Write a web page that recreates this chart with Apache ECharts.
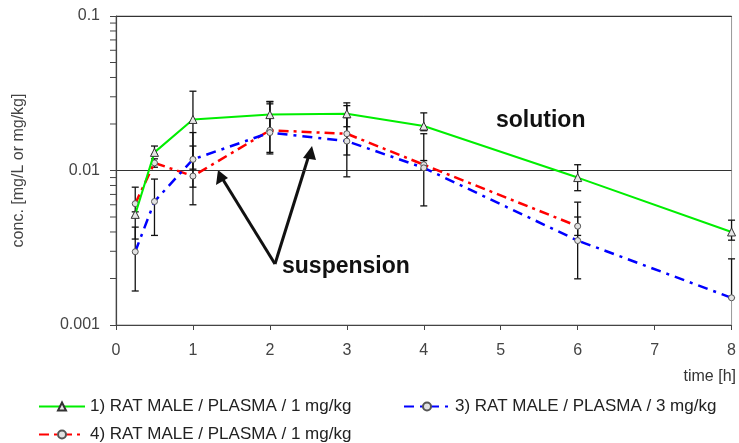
<!DOCTYPE html>
<html>
<head>
<meta charset="utf-8">
<script src="https://cdn.jsdelivr.net/npm/echarts@6/dist/echarts.min.js"></script>
<style>
  html, body { margin: 0; padding: 0; background: #fff; }
  #chart { width: 739px; height: 443px; }
</style>
</head>
<body>
<div id="chart"></div>
<script>
// Sampling times [h]
const timesSolution = [0.25, 0.5, 1, 2, 3, 4, 6, 8];
const times3mg = [0.25, 0.5, 1, 2, 3, 4, 6, 8];
const times4 = [0.25, 0.5, 1, 2, 3, 4, 6];

// 1) RAT MALE / PLASMA / 1 mg/kg (solution): mean and error range
const conc1 = [0.0052, 0.0131, 0.0214, 0.0230, 0.0233, 0.0194, 0.0090, 0.0040];
const conc1Low = [0.0050, 0.0127, 0.0102, 0.0180, 0.0192, 0.0181, 0.0074, 0.00354];
const conc1High = [0.0054, 0.0144, 0.0326, 0.0278, 0.0274, 0.0236, 0.0109, 0.00477];

// 3) RAT MALE / PLASMA / 3 mg/kg (suspension)
const conc3 = [0.00298, 0.0063, 0.0118, 0.0176, 0.0155, 0.0104, 0.00352, 0.0015];
const conc3Low = [0.00166, 0.0038, 0.0060, 0.0128, 0.0091, 0.0059, 0.00199, 0.0015];
const conc3High = [0.0043, 0.0088, 0.0176, 0.0270, 0.0220, 0.0173, 0.00624, 0.00268];

// 4) RAT MALE / PLASMA / 1 mg/kg (suspension)
const conc4 = [0.0061, 0.0112, 0.0092, 0.0182, 0.0173, 0.0109, 0.00436];
const conc4Low = [0.0036, 0.0105, 0.0078, 0.0131, 0.0126, 0.0102, 0.0038];
const conc4High = [0.0078, 0.0119, 0.0144, 0.0280, 0.0263, 0.0116, 0.0050];

// Axis ticks
const xTicks = [0, 1, 2, 3, 4, 5, 6, 7, 8];
const yMajor = [0.001, 0.01, 0.1];
const yMinor = [0.002, 0.003, 0.004, 0.005, 0.006, 0.007, 0.008, 0.009,
                0.02, 0.03, 0.04, 0.05, 0.06, 0.07, 0.08, 0.09];

const names = [
  '1) RAT MALE / PLASMA / 1 mg/kg',
  '3) RAT MALE / PLASMA / 3 mg/kg',
  '4) RAT MALE / PLASMA / 1 mg/kg'
];

const FONT = "'Liberation Sans', Arial, sans-serif";

function pairs(xs, ys) { return xs.map((x, i) => [x, ys[i]]); }
function triples(xs, lo, hi) { return xs.map((x, i) => [x, lo[i], hi[i]]); }

// vertical error bar with caps
function renderErrorBar(params, api) {
  const x = api.value(0);
  const top = api.coord([x, api.value(2)]);
  const bot = api.coord([x, api.value(1)]);
  const w = 3.5;
  const st = { stroke: '#111', lineWidth: 1.3 };
  return {
    type: 'group',
    children: [
      { type: 'line', shape: { x1: top[0], y1: top[1], x2: bot[0], y2: bot[1] }, style: st },
      { type: 'line', shape: { x1: top[0] - w, y1: top[1], x2: top[0] + w, y2: top[1] }, style: st },
      { type: 'line', shape: { x1: bot[0] - w, y1: bot[1], x2: bot[0] + w, y2: bot[1] }, style: st }
    ]
  };
}

// short outward ticks on the log axis at 2..9 of each decade
function renderMinorTick(params, api) {
  const p = api.coord([0, api.value(1)]);
  return {
    type: 'line',
    shape: { x1: p[0] - 6, y1: p[1], x2: p[0], y2: p[1] },
    style: { stroke: '#444', lineWidth: 1 }
  };
}

const markerCircle = { color: '#e2e2e2', borderColor: '#555', borderWidth: 1 };

const chart = echarts.init(document.getElementById('chart'), null, { renderer: 'canvas' });

chart.setOption({
  animation: false,
  backgroundColor: '#fff',
  grid: {
    left: 116, right: 4, top: 16, bottom: 118,
    show: true, borderColor: '#999', borderWidth: 1, backgroundColor: 'transparent'
  },
  xAxis: {
    type: 'value',
    min: xTicks[0], max: xTicks[xTicks.length - 1], interval: 1,
    axisLine: { lineStyle: { color: '#444', width: 1.2 } },
    axisTick: { show: true, inside: false, length: 5, lineStyle: { color: '#444' } },
    axisLabel: { color: '#444', fontSize: 16, fontFamily: FONT, margin: 18 },
    splitLine: { show: false }
  },
  yAxis: {
    type: 'log',
    logBase: 10,
    min: yMajor[0], max: yMajor[yMajor.length - 1],
    name: 'conc. [mg/L or mg/kg]',
    nameLocation: 'middle',
    nameGap: 89,
    nameTextStyle: { color: '#444', fontSize: 16, fontFamily: FONT },
    axisLine: { show: true, lineStyle: { color: '#444', width: 1.2 } },
    axisTick: { show: true, inside: false, length: 6, lineStyle: { color: '#444' } },
    axisLabel: {
      color: '#444', fontSize: 16, fontFamily: FONT, margin: 16,
      formatter: v => String(v)
    },
    splitLine: { show: true, lineStyle: { color: '#333', width: 1 } }
  },
  legend: [
    {
      data: [names[0]], left: 33, top: 393, itemWidth: 46, itemHeight: 10, itemGap: 5,
      textStyle: { color: '#222', fontSize: 17, fontFamily: FONT }
    },
    {
      data: [names[1]], left: 398, top: 393, itemWidth: 46, itemHeight: 10,
      textStyle: { color: '#222', fontSize: 17, fontFamily: FONT }
    },
    {
      data: [names[2]], left: 33, top: 421, itemWidth: 46, itemHeight: 10,
      textStyle: { color: '#222', fontSize: 17, fontFamily: FONT }
    }
  ],
  graphic: [
    {
      type: 'text', right: 3, top: 369,
      style: { text: 'time [h]', fill: '#333', font: '16px ' + FONT }
    },
    {
      type: 'text', left: 496, top: 109,
      style: { text: 'solution', fill: '#111', font: 'bold 23px ' + FONT }
    },
    {
      type: 'text', left: 282, top: 255,
      style: { text: 'suspension', fill: '#111', font: 'bold 23px ' + FONT }
    },
    {
      type: 'line', shape: { x1: 275, y1: 264, x2: 222, y2: 178 },
      style: { stroke: '#111', lineWidth: 3 }
    },
    {
      type: 'polygon', shape: { points: [[218, 170], [216, 185], [228, 178]] },
      style: { fill: '#111' }
    },
    {
      type: 'line', shape: { x1: 275, y1: 264, x2: 309, y2: 155 },
      style: { stroke: '#111', lineWidth: 3 }
    },
    {
      type: 'polygon', shape: { points: [[312, 146], [303, 158], [316, 160]] },
      style: { fill: '#111' }
    }
  ],
  series: [
    {
      type: 'custom', name: 'err1', renderItem: renderErrorBar, z: 1,
      data: triples(timesSolution, conc1Low, conc1High), encode: { x: 0, y: [1, 2] }, silent: true
    },
    {
      type: 'custom', name: 'err3', renderItem: renderErrorBar, z: 1,
      data: triples(times3mg, conc3Low, conc3High), encode: { x: 0, y: [1, 2] }, silent: true
    },
    {
      type: 'custom', name: 'err4', renderItem: renderErrorBar, z: 1,
      data: triples(times4, conc4Low, conc4High), encode: { x: 0, y: [1, 2] }, silent: true
    },
    {
      type: 'custom', name: 'minorTicks', renderItem: renderMinorTick, clip: false, z: 5,
      data: yMinor.map(v => [0, v]), encode: { x: 0, y: 1 }, silent: true
    },
    {
      name: names[2], type: 'line', z: 2,
      data: pairs(times4, conc4),
      symbol: 'circle', symbolSize: 6,
      lineStyle: { color: '#ff0000', width: 2.5, type: [10, 5, 3, 5] },
      itemStyle: markerCircle
    },
    {
      name: names[1], type: 'line', z: 3,
      data: pairs(times3mg, conc3),
      symbol: 'circle', symbolSize: 6,
      lineStyle: { color: '#0000ff', width: 2.5, type: [10, 6, 3, 6] },
      itemStyle: markerCircle
    },
    {
      name: names[0], type: 'line', z: 4,
      data: pairs(timesSolution, conc1),
      symbol: 'triangle', symbolSize: 8,
      lineStyle: { color: '#00ee00', width: 2 },
      itemStyle: { color: '#e6e6e6', borderColor: '#333', borderWidth: 1 }
    }
  ]
});
</script>
</body>
</html>
